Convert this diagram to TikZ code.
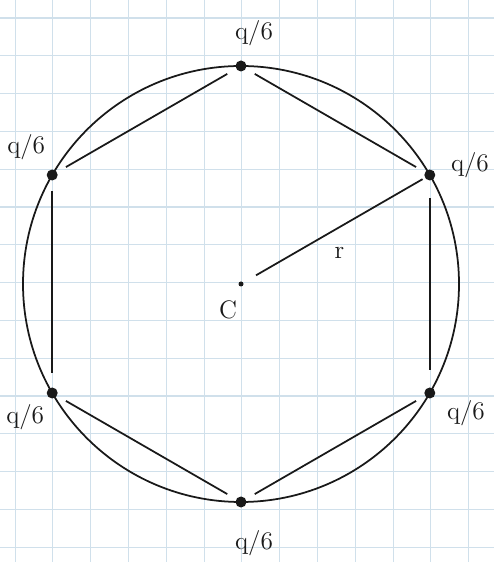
\documentclass[tikz,border=0pt]{standalone}
\usepackage{xcolor}
\usepackage{tikz}
\usetikzlibrary{positioning}
\definecolor{paperblue}{RGB}{208,224,235}
\definecolor{ink}{RGB}{25,25,25}

\begin{document}
\begin{tikzpicture}[>=latex,
    dot/.style={circle,fill=ink,inner sep=0pt,minimum size=0.22cm},
    charge/.style={inner sep=0pt,font=\Large,text=ink},
    side/.style={draw=ink,line width=1pt,shorten <=0.2cm,shorten >=0.2cm}]
        \useasboundingbox (0,0) rectangle (9.88,11.24);
        % squared paper
        \foreach \i in {0,...,13} {
            \draw[paperblue,line width=0.5pt] (0.3+0.756*\i,0) -- (0.3+0.756*\i,11.24);
        }
        \foreach \j in {0,...,14} {
            \draw[paperblue,line width=0.6pt] (0,10.88-0.756*\j) -- (9.88,10.88-0.756*\j);
        }
        \node[circle,fill=ink,inner sep=0pt,minimum size=0.1cm] (c) at (4.82,5.56) {};
        \draw[ink,line width=1pt] (c) circle[radius=4.36cm];
        \path (c) ++(90:4.36) node[dot] (t) {};
        \path (c) ++(30:4.36) node[dot] (ur) {};
        \path (c) ++(-30:4.36) node[dot] (lr) {};
        \path (c) ++(-90:4.36) node[dot] (b) {};
        \path (c) ++(210:4.36) node[dot] (ll) {};
        \path (c) ++(150:4.36) node[dot] (ul) {};
        \node[charge,above=0.28cm of t,xshift=0.26cm] (qt) {q/6};
        \node[charge,right=0.3cm of ur,yshift=0.2cm] (qur) {q/6};
        \node[charge,right=0.22cm of lr,yshift=-0.4cm] (qlr) {q/6};
        \node[charge,below=0.45cm of b,xshift=0.26cm] (qb) {q/6};
        \node[charge,below=0.1cm of ll,xshift=-0.54cm] (qll) {q/6};
        \node[charge,above=0.18cm of ul,xshift=-0.52cm] (qul) {q/6};
        \node[charge,below=0.26cm of c,xshift=-0.26cm] (cl) {C};
        \draw[side] (t) -- (ur);
        \draw[side,shorten <=0.35cm,shorten >=0.35cm] (ur) -- (lr);
        \draw[side] (lr) -- (b);
        \draw[side] (b) -- (ll);
        \draw[side,shorten <=0.28cm,shorten >=0.2cm] (ll) -- (ul);
        \draw[side] (ul) -- (t);
        \draw[side,shorten <=0.29cm,shorten >=0.05cm] (c) -- node[charge,pos=0.53,below=0.38cm] (rl) {r} (ur);
      \end{tikzpicture}
\end{document}
